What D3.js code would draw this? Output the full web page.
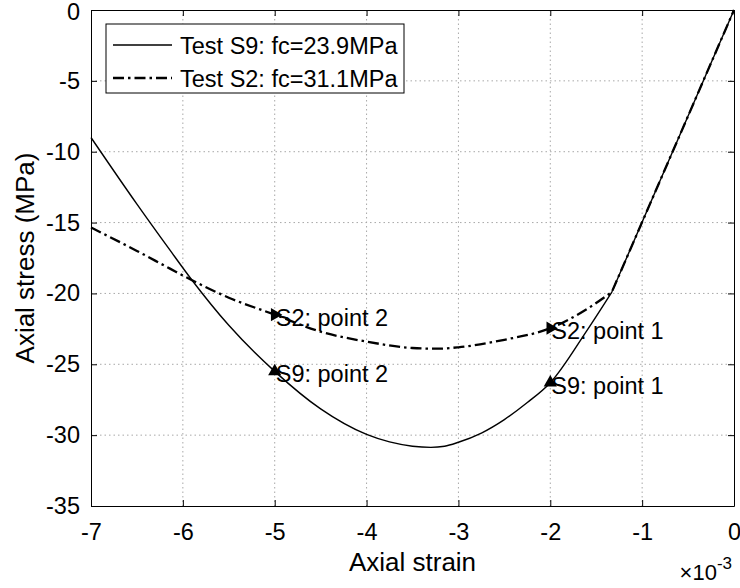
<!DOCTYPE html>
<html>
<head>
<meta charset="utf-8">
<script src="https://cdn.jsdelivr.net/npm/d3@7"></script>
<style>
  body { margin: 0; background: #fff; }
  text { font-family: "Liberation Sans", Arial, sans-serif; fill: #000; }
</style>
</head>
<body>
<script>
// strain values in units of 1e-3, stress in MPa
const s9Strain = [-7.0, -6.5, -6.14, -5.9, -5.5, -5.0, -4.5, -4.0, -3.75, -3.5, -3.3, -3.15, -3.0, -2.75, -2.5, -2.25, -2.0, -1.6, -1.33, 0];
const s9Stress = [-9.0, -13.7, -16.95, -19.07, -22.25, -25.5, -28.15, -29.95, -30.48, -30.78, -30.86, -30.78, -30.5, -29.85, -28.9, -27.7, -26.3, -22.6, -19.9, 0];

const s2Strain = [-7.0, -6.5, -6.14, -5.9, -5.5, -5.0, -4.5, -4.0, -3.5, -3.23, -3.0, -2.5, -2.0, -1.6, -1.33, 0];
const s2Stress = [-15.35, -17.0, -18.25, -19.07, -20.3, -21.5, -22.7, -23.4, -23.85, -23.9, -23.8, -23.27, -22.45, -21.1, -19.9, 0];

const pointLabels = ["S2: point 2", "S2: point 1", "S9: point 2", "S9: point 1"];
const pointStrain = [-5, -2, -5, -2];
const pointStress = [-21.5, -22.45, -25.5, -26.3];
const pointSeries = ["S2", "S2", "S9", "S9"];

const legendLabels = ["Test S9: fc=23.9MPa", "Test S2: fc=31.1MPa"];

const xTicks = [-7, -6, -5, -4, -3, -2, -1, 0];
const yTicks = [0, -5, -10, -15, -20, -25, -30, -35];

const svgWidth = 740;
const svgHeight = 588;
const margin = {top: 10, right: 6, bottom: 82, left: 91};
const chartWidth = svgWidth - margin.left - margin.right;
const chartHeight = svgHeight - margin.top - margin.bottom;
const fontSize = 23.5;
const labelSize = 26;

const svg = d3.select("body").append("svg")
    .attr("width", svgWidth)
    .attr("height", svgHeight);

const g = svg.append("g")
    .attr("transform", `translate(${margin.left},${margin.top})`);

const x = d3.scaleLinear().domain([-7, 0]).range([0, chartWidth]);
const y = d3.scaleLinear().domain([-35, 0]).range([chartHeight, 0]);

// grid
g.append("g").selectAll("line")
    .data(xTicks.slice(1, -1))
    .join("line")
    .attr("x1", d => x(d)).attr("x2", d => x(d))
    .attr("y1", 0).attr("y2", chartHeight)
    .attr("stroke", "#a8a8a8").attr("stroke-width", 1)
    .attr("stroke-dasharray", "1.5,3");
g.append("g").selectAll("line")
    .data(yTicks.slice(1, -1))
    .join("line")
    .attr("y1", d => y(d)).attr("y2", d => y(d))
    .attr("x1", 0).attr("x2", chartWidth)
    .attr("stroke", "#a8a8a8").attr("stroke-width", 1)
    .attr("stroke-dasharray", "1.5,3");

// axes (ticks inward, box on)
const tickLen = 6;
const xAxis = g.append("g")
    .attr("transform", `translate(0,${chartHeight})`)
    .call(d3.axisBottom(x).tickValues(xTicks).tickSizeInner(-tickLen).tickSizeOuter(0).tickPadding(17));
const xAxisTop = g.append("g")
    .call(d3.axisTop(x).tickValues(xTicks).tickSizeInner(-tickLen).tickSizeOuter(0).tickFormat(""));
const yAxis = g.append("g")
    .call(d3.axisLeft(y).tickValues(yTicks).tickSizeInner(-tickLen).tickSizeOuter(0).tickPadding(11));
const yAxisRight = g.append("g")
    .attr("transform", `translate(${chartWidth},0)`)
    .call(d3.axisRight(y).tickValues(yTicks).tickSizeInner(-tickLen).tickSizeOuter(0).tickFormat(""));

[xAxis, xAxisTop, yAxis, yAxisRight].forEach(a => {
    a.select(".domain").attr("stroke", "#000").attr("stroke-width", 1);
    a.selectAll(".tick line").attr("stroke", "#000");
    a.selectAll("text")
        .style("font-family", "'Liberation Sans', Arial, sans-serif")
        .style("font-size", fontSize + "px")
        .attr("fill", "#000");
});
// MATLAB uses a hyphen-minus
xAxis.selectAll(".tick text").text(d => String(d));
yAxis.selectAll(".tick text").text(d => String(d));
// keep the top "0" inside the picture
yAxis.selectAll(".tick text").filter(d => d === 0).attr("dy", "0.4em");

// curves: smooth softening branch, straight elastic branch
const curveLine = d3.line()
    .x(d => x(d[0]))
    .y(d => y(d[1]))
    .curve(d3.curveMonotoneX);

function seriesPath(strain, stress) {
    const pts = strain.map((s, i) => [s, stress[i]]);
    const curved = pts.slice(0, pts.length - 1);
    const last = pts[pts.length - 1];
    return curveLine(curved) + `L${x(last[0])},${y(last[1])}`;
}

g.append("path")
    .attr("d", seriesPath(s9Strain, s9Stress))
    .attr("fill", "none")
    .attr("stroke", "#000")
    .attr("stroke-width", 1.4);

g.append("path")
    .attr("d", seriesPath(s2Strain, s2Stress))
    .attr("fill", "none")
    .attr("stroke", "#000")
    .attr("stroke-width", 2.3)
    .attr("stroke-dasharray", "11,4,2.5,4");

// marked points
const tri = d3.symbol().type(d3.symbolTriangle).size(75);
const pts = g.append("g").selectAll("g")
    .data(pointLabels.map((l, i) => ({label: l, sx: pointStrain[i], sy: pointStress[i], series: pointSeries[i]})))
    .join("g")
    .attr("transform", d => `translate(${x(d.sx)},${y(d.sy)})`);

pts.append("path")
    .attr("d", tri)
    .attr("transform", d => d.series === "S2" ? "rotate(90)" : null)
    .attr("fill", "#000");

pts.append("text")
    .attr("x", 1)
    .attr("y", 11)
    .style("font-size", fontSize + "px")
    .text(d => d.label);

// axis labels
g.append("text")
    .attr("x", chartWidth / 2)
    .attr("y", chartHeight + 65)
    .attr("text-anchor", "middle")
    .style("font-size", labelSize + "px")
    .text("Axial strain");

const expo = g.append("text")
    .attr("x", chartWidth - 2)
    .attr("y", chartHeight + 74)
    .attr("text-anchor", "end")
    .style("font-size", "22px");
expo.append("tspan").text("\u00d710");
expo.append("tspan").attr("dy", -11).style("font-size", "17px").text("-3");

svg.append("text")
    .attr("transform", `translate(34,${margin.top + chartHeight / 2}) rotate(-90)`)
    .attr("text-anchor", "middle")
    .style("font-size", labelSize + "px")
    .text("Axial stress (MPa)");

// legend
const legend = svg.append("g").attr("transform", "translate(106,24)");
legend.append("rect")
    .attr("width", 298).attr("height", 69)
    .attr("fill", "#fff").attr("stroke", "#000").attr("stroke-width", 1);

const legendStyles = [{w: 1.4, dash: null}, {w: 2.3, dash: "11,4,2.5,4"}];
legendLabels.forEach((lab, i) => {
    const cy = 21 + i * 33;
    legend.append("line")
        .attr("x1", 7).attr("x2", 66)
        .attr("y1", cy).attr("y2", cy)
        .attr("stroke", "#000")
        .attr("stroke-width", legendStyles[i].w)
        .attr("stroke-dasharray", legendStyles[i].dash);
    legend.append("text")
        .attr("x", 74)
        .attr("y", cy + 8.5)
        .style("font-size", fontSize + "px")
        .text(lab);
});
</script>
</body>
</html>
